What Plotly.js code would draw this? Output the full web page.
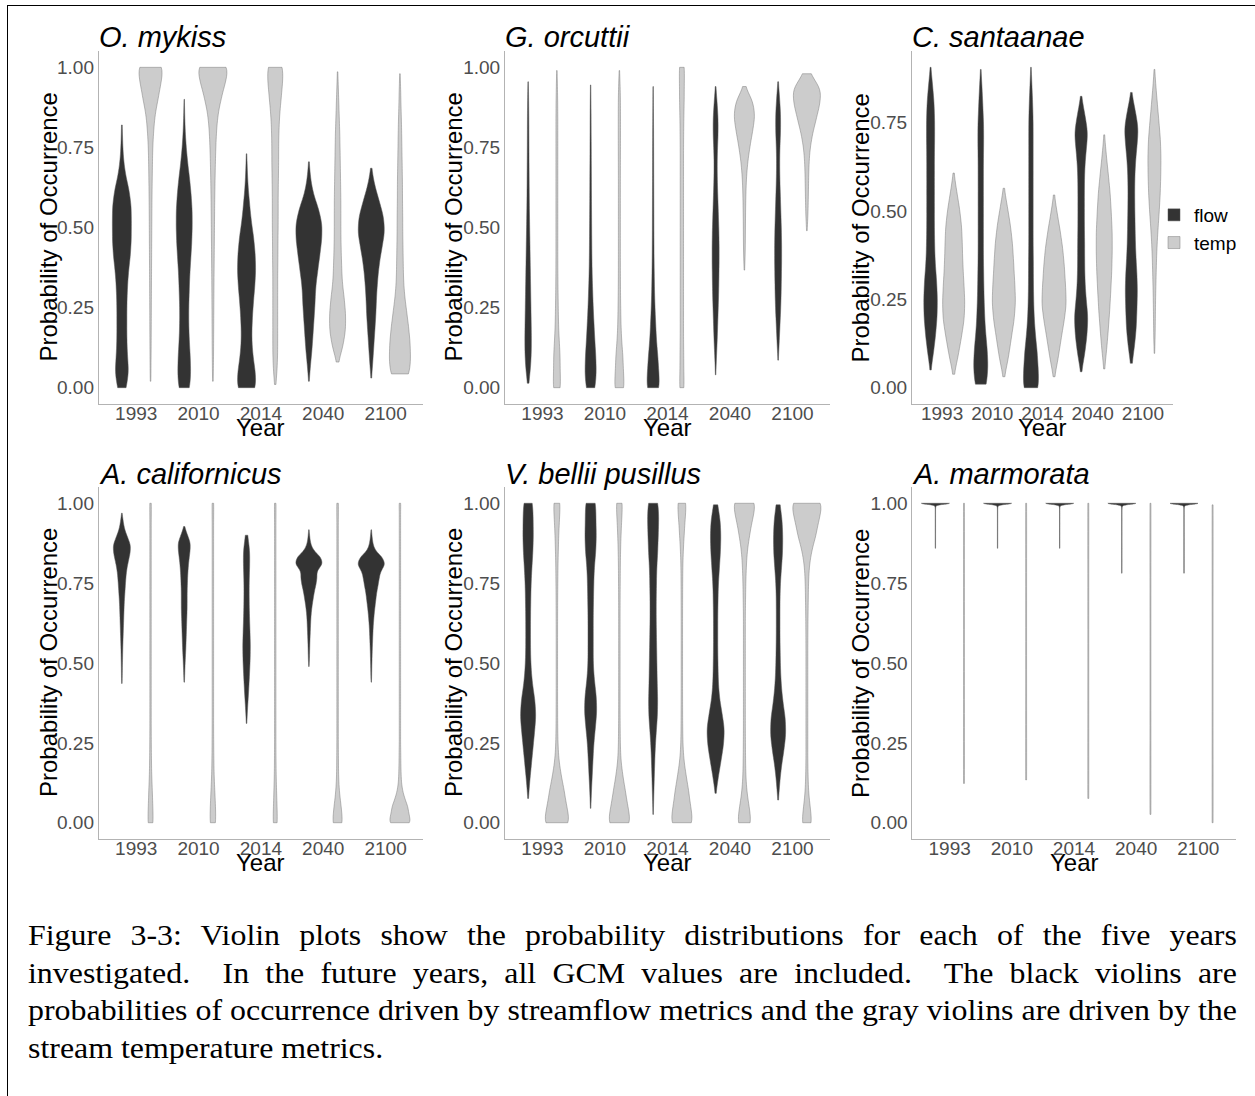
<!DOCTYPE html>
<html>
<head>
<meta charset="utf-8">
<script src="https://cdn.plot.ly/plotly-3.0.1.min.js"></script>
<style>
  html, body { margin:0; padding:0; background:#fff; width:1255px; height:1096px; overflow:hidden; }
  #frame { position:absolute; left:7px; top:5px; width:1300px; height:1200px; border-left:1.5px solid #000; border-top:1.5px solid #000; }
  #chart { position:absolute; left:0; top:0; width:1255px; height:1096px; }
  #caption { position:absolute; left:28px; top:917px; width:1099px; transform:scaleX(1.1); transform-origin:0 0;
             font-family:'Liberation Serif','Times New Roman',serif; font-size:29px; line-height:37.5px; color:#000; }
  #caption .j { text-align:justify; text-align-last:justify; white-space:nowrap; }
  #caption .l { text-align:left; white-space:nowrap; }
</style>
</head>
<body>
<div id="frame"></div>
<div id="chart"></div>
<div id="caption">
  <div class="j">Figure 3-3: Violin plots show the probability distributions for each of the five years</div>
  <div class="j">investigated.&nbsp; In the future years, all GCM values are included.&nbsp; The black violins are</div>
  <div class="j">probabilities of occurrence driven by streamflow metrics and the gray violins are driven by the</div>
  <div class="l">stream temperature metrics.</div>
</div>
<script>
// ---------------- DATA ----------------
const years = ['1993', '2010', '2014', '2040', '2100'];
const speciesNames = ['O. mykiss', 'G. orcuttii', 'C. santaanae', 'A. californicus', 'V. bellii pusillus', 'A. marmorata'];
const seriesNames = ['flow', 'temp'];

// Each violin: [lowest value, highest value, violin widths read at evenly spaced values from low to high]
const omykissFlow = [
  [0, 0.82, [7,14,11,10,10,10,11,13,17,19,19,19,15,7,3,1.5,0.6]],
  [0, 0.90, [9,13,12,10,9,9,10,11,13,15,16,16,14,11,7,4,2,1,0.3]],
  [0, 0.73, [15,17,12,10,11,13,16,18,17,14,9,6,3,1.5,0.4]],
  [0.02, 0.705, [0.4,3,6,8,10,12,13,17,21,25,26,19,8,3,0.4]],
  [0.03, 0.685, [0.4,3,5,7,9,10,12,15,20,26,24,15,6,0.5]]
];
const omykissTemp = [
  [0.02, 1, [0.5,1,1.3,1.5,1.7,1.8,2,2.2,2.4,2.6,2.8,3,3.3,3.8,4.3,5,7,10,17,23,23]],
  [0.02, 1, [0.5,1.2,1.5,1.7,1.9,2.1,2.3,2.6,2.9,3.2,3.5,3.8,4.2,4.8,5.5,6.5,8,11,18,27,28]],
  [0.01, 1, [1,4,5,5,5,5,5,5,5.5,5.5,6,6,6,6.5,7,7,7.5,9,12,15,13]],
  [0.08, 0.986, [1,11,16,16,13,9,8,7,6.5,6.5,6.5,6,5.5,5,4.5,3.5,2.5,1.5,0.3]],
  [0.043, 0.98, [15,21,20,17,13,9,7,6.5,6,5.5,5.5,5,5,4.5,4,3.5,3,2,1.5,0.3]]
];
const gorcuttiiFlow = [
  [0.014, 0.955, [1,5,6.5,6.5,6,5.5,5,4.5,4,3.5,3,2.5,2.2,2,1.8,1.6,1.5,1.3,1,0.3]],
  [0, 0.945, [7,11,10,8,6.5,5,4,3,2.5,2.2,2,1.8,1.6,1.5,1.3,1.2,1,0.9,0.7,0.3]],
  [0, 0.94, [11,12,10,7,5.5,4,3,2.5,2,1.8,1.6,1.5,1.4,1.3,1.2,1.1,1,0.8,0.6,0.3]],
  [0.04, 0.94, [0.3,1.5,3,4,5,6,6.5,7,7,6.5,5.5,4.5,3.5,3,3.5,5,5,3,0.3]],
  [0.086, 0.955, [0.3,2,3.5,5,6,6.5,7,7,6.5,5.5,4.5,3.5,3,3.5,5,5,3,0.3]]
];
const gorcuttiiTemp = [
  [0, 0.99, [6.5,7,7,5,3.5,3,2.5,2.2,2,2,2,2,2,2,2,2,2,2,1.8,1.2,0.3]],
  [0, 0.99, [9,9,8,5,3.5,3,2.5,2.3,2.2,2.2,2.2,2.2,2.2,2.2,2.3,2.4,2.5,2.5,2.4,1.8,0.3]],
  [0, 1, [4,4,4,3.5,3.5,3.5,3.5,3.5,3.5,3.5,3.5,3.5,3.5,3.5,3.5,3.5,3.8,4.2,5,5,4.5]],
  [0.367, 0.94, [0.3,1.5,1.8,2,2.3,2.8,3.8,6,10,15,20,17,0.5]],
  [0.49, 0.98, [0.3,2,2.5,3,3.5,5,9,16,23,27,4]]
];
const csantaanaeFlow = [
  [0.05, 0.906, [0.4,6,10,13,13.5,12,9,8,7.5,7.5,7.5,7.5,7.5,8,8,7,4,0.3]],
  [0.01, 0.90, [9,14,12,8.5,7,6,5.5,5,5,5,5,5,5,5.5,5.5,4,2.5,0.3]],
  [0, 0.906, [13,15,13,9,6.5,5.5,5,5,4.5,4.5,4.5,4.5,4.5,4.5,4.5,4.5,3.5,2,0.3]],
  [0.045, 0.824, [0.4,7,11,13,9,7,6.5,6.5,6,6,6,6.5,9,13,7,0.3]],
  [0.069, 0.835, [1,6,9,10,11,10,8,7,6.5,6,6,7,10,13,7,0.3]]
];
const csantaanaeTemp = [
  [0.038, 0.607, [0.5,9,15,21,22,20,18,17,16,12,6,0.3]],
  [0.031, 0.564, [0.5,9,14,20,23,21,19,17,13,7,0.3]],
  [0.031, 0.545, [0.5,8,13,19,24,22,20,17,12,6,0.3]],
  [0.053, 0.715, [0.4,5,8,11,13,15,16,16,14,12,8,4,0.3]],
  [0.097, 0.90, [0.3,1.5,1.8,2.2,3,3.8,5,7,9.5,11.5,12.5,13,12,9,6,3,0.3]]
];
const acalifornicusFlow = [
  [0.436, 0.969, [0.4,0.8,1,1.3,1.6,2,2.5,3,3.5,4,4.5,5.5,6.5,7.5,9,12,15.5,17,11,5,2.5,0.3]],
  [0.44, 0.927, [0.4,1,1.5,2.2,3,3.5,4,4.5,5,5.5,5.5,5.5,6,6.5,7.5,9,11,12,6,0.3]],
  [0.311, 0.90, [0.3,2,4,5.5,7,7.5,6.5,5.5,5,5,6,6.5,1.5]],
  [0.489, 0.917, [0.3,1,1.3,1.6,2,2.5,3,3.5,4.5,6,8,10,13,15,14,26,22,8,3,1.5,0.3]],
  [0.44, 0.917, [0.3,0.8,1,1.3,1.6,2,2.5,3,3.5,4.5,5.5,7,8.5,10,12.5,14.5,17,26,21,7,3,1.5,0.3]]
];
const acalifornicusTemp = [
  [0, 1, [5,5,4,2.5,2,1.7,1.5,1.5,1.5,1.5,1.5,1.5,1.5,1.5,1.5,1.5,1.5,1.5,1.5,1.5,1.5]],
  [0, 1, [5,5.5,4,2.5,2,1.7,1.5,1.5,1.5,1.5,1.5,1.5,1.5,1.5,1.5,1.5,1.5,1.5,1.5,1.5,1.5]],
  [0, 1, [4,4,3,2,1.7,1.5,1.5,1.5,1.5,1.5,1.5,1.5,1.5,1.5,1.5,1.5,1.5,1.5,1.5,1.5,1.5]],
  [0, 1, [9,7.5,3.5,2,1.8,1.5,1.5,1.5,1.5,1.5,1.5,1.5,1.5,1.5,1.5,1.5,1.5,1.5,1.5,1.5,1.5]],
  [0, 1, [20,20,18,11,6,3.5,2.7,2.2,2,1.8,1.5,1.5,1.5,1.5,1.5,1.5,1.5,1.5,1.5,1.5,1.5,1.5,1.5,1.5,1.5,1.5,1.5,1.5,1.5,1.5,1.5,1.5,1.5,1.5,1.5,1.5,1.5,1.5,1.5,1.5,1.5]]
];
const vbelliiFlow = [
  [0.076, 1, [0.4,3,6,9,12,15,13,8,5.5,4.5,4.5,4.5,5,5.5,7,9,10,9.5,7]],
  [0.045, 1, [0.3,1.5,3,4.5,6,9,12,11,7,5,5,5,5,5.5,6,7,10,11,10,8]],
  [0.026, 1, [0.3,1.2,2,3,4,6,8.5,9,8,7.5,7,6.5,6,6,6.5,7,9,10,11,8]],
  [0.092, 0.995, [0.4,5,10,15,17,12,7,5,4.5,4,4,4,4.5,5,7,9,10,9,3]],
  [0.071, 0.995, [0.4,3,6,11,15,14,9,6,4.5,4,3.5,3.5,3.5,4,6,8.5,9,8,3]]
];
const vbelliiTemp = [
  [0, 1, [23,21,16,9,4,2.3,1.8,1.6,1.5,1.5,1.5,1.5,1.5,1.6,1.7,2,2.3,3,4,5.5,6]],
  [0, 1, [20,18,13,7,3,2,1.7,1.5,1.5,1.5,1.5,1.5,1.5,1.5,1.6,1.8,2,2.5,3.5,5,5.5]],
  [0, 1, [20,19,15,9,4,2.2,1.8,1.6,1.5,1.5,1.5,1.5,1.5,1.5,1.6,1.8,2,3,5,7,8]],
  [0, 1, [12,10,5,3,2.5,2.2,2,2,2,2,2,2,2,2,2.5,3,4,6,11,17,20]],
  [0, 1, [9,7,3.5,2.5,2,2,2,2,2,2,2,2,2.2,2.5,3,3.5,5,10,20,26,28]]
];
const amarmorataFlow = [
  [0.859, 1, [0.2,0.3,0.3,0.3,0.3,0.3,0.3,0.3,0.3,0.3,0.3,0.3,0.3,0.3,0.3,0.3,0.3,0.3,0.3,0.3,0.3,0.3,0.3,0.3,0.3,0.4,0.6,2,28]],
  [0.859, 1, [0.2,0.3,0.3,0.3,0.3,0.3,0.3,0.3,0.3,0.3,0.3,0.3,0.3,0.3,0.3,0.3,0.3,0.3,0.3,0.3,0.3,0.3,0.3,0.3,0.3,0.4,0.6,2,28]],
  [0.859, 1, [0.2,0.3,0.3,0.3,0.3,0.3,0.3,0.3,0.3,0.3,0.3,0.3,0.3,0.3,0.3,0.3,0.3,0.3,0.3,0.3,0.3,0.3,0.3,0.3,0.3,0.4,0.6,2,28]],
  [0.781, 1, [0.2,0.3,0.3,0.3,0.3,0.3,0.3,0.3,0.3,0.3,0.3,0.3,0.3,0.3,0.3,0.3,0.3,0.3,0.3,0.3,0.3,0.3,0.3,0.3,0.3,0.3,0.3,0.3,0.3,0.3,0.3,0.3,0.3,0.3,0.3,0.3,0.3,0.3,0.3,0.3,0.4,0.6,2,28]],
  [0.781, 1, [0.2,0.3,0.3,0.3,0.3,0.3,0.3,0.3,0.3,0.3,0.3,0.3,0.3,0.3,0.3,0.3,0.3,0.3,0.3,0.3,0.3,0.3,0.3,0.3,0.3,0.3,0.3,0.3,0.3,0.3,0.3,0.3,0.3,0.3,0.3,0.3,0.3,0.3,0.3,0.3,0.4,0.6,2,28]]
];
const amarmorataTemp = [
  [0.123, 1, [1,1,1,1,1]],
  [0.134, 1, [1,1,1,1,1]],
  [0.076, 1, [1,1,1,1,1]],
  [0.026, 1, [1,1,1,1,1]],
  [0, 0.995, [1,1,1,1,1]]
];

// ---------------- LAYOUT / STYLE ----------------
const W = 1255, H = 1096;
const panelData = [
  [omykissFlow, omykissTemp], [gorcuttiiFlow, gorcuttiiTemp], [csantaanaeFlow, csantaanaeTemp],
  [acalifornicusFlow, acalifornicusTemp], [vbelliiFlow, vbelliiTemp], [amarmorataFlow, amarmorataTemp]
];
// plot-area boxes in pixels
const boxes = [
  {x0: 98.8, x1: 423, y0: 51.3, y1: 403.7},
  {x0: 505, x1: 830, y0: 51.3, y1: 403.7},
  {x0: 912, x1: 1173, y0: 51.3, y1: 403.7},
  {x0: 98.8, x1: 423, y0: 487.3, y1: 838.7},
  {x0: 505, x1: 830, y0: 487.3, y1: 838.7},
  {x0: 912.4, x1: 1235.6, y0: 487.3, y1: 838.7}
];
const titleY = [37, 37, 37, 474, 474, 474];
const yearY = [427, 427, 427, 862, 862, 862];
const probX = [48, 453, 860, 48, 453, 860];
const dodge = [-0.23, 0.23];
const fills = ['#333333', '#cccccc'];
const lines = ['#555555', '#7c7c7c'];
const FONT = 'Liberation Sans, Arial, Helvetica, sans-serif';

function expand(v) {
  const lo = v[0], hi = v[1], w = v[2];
  const n = w.length - 1, step = (hi - lo) / n;
  const ys = [];
  w.forEach((wk, k) => {
    let c = wk * 10;
    if (k === 0 || k === n) c *= 1.3;
    c = Math.max(1, Math.round(c));
    const y = +(lo + k * step).toFixed(4);
    for (let j = 0; j < c; j++) ys.push(y);
  });
  return {ys, step, maxW: Math.max(...w), lo, hi};
}

const traces = [];
const layout = {
  width: W, height: H,
  margin: {l: 0, r: 0, t: 0, b: 0},
  paper_bgcolor: 'rgba(0,0,0,0)', plot_bgcolor: 'rgba(0,0,0,0)',
  font: {family: FONT, color: '#000'},
  showlegend: true,
  legend: {x: 1154 / W, y: 1 - 196 / H, xanchor: 'left', yanchor: 'top',
           font: {size: 19, color: '#000', family: FONT}, bgcolor: 'rgba(0,0,0,0)',
           tracegroupgap: 0, itemwidth: 30},
  annotations: []
};

panelData.forEach((pd, p) => {
  const b = boxes[p];
  const sfx = p === 0 ? '' : String(p + 1);
  const pxPerCat = (b.x1 - b.x0) / 5.2;
  let ymin = Infinity, ymax = -Infinity;
  pd.forEach((series, t) => {
    series.forEach((v, i) => {
      const e = expand(v);
      ymin = Math.min(ymin, e.lo); ymax = Math.max(ymax, e.hi);
      traces.push({
        type: 'violin', orientation: 'v',
        x0: i + dodge[t], y: e.ys,
        xaxis: 'x' + sfx, yaxis: 'y' + sfx,
        width: e.maxW / pxPerCat,
        bandwidth: 0.6 * e.step,
        spanmode: 'hard', scalemode: 'width', scalegroup: 'g' + p + '_' + t + '_' + i,
        points: false, box: {visible: false}, meanline: {visible: false},
        fillcolor: fills[t], line: {color: lines[t], width: 0.5},
        name: seriesNames[t], legendgroup: seriesNames[t],
        showlegend: p === 0 && i === 0,
        hoverinfo: 'skip'
      });
    });
  });
  const span = ymax - ymin;
  layout['xaxis' + sfx] = {
    domain: [b.x0 / W, b.x1 / W], anchor: 'y' + sfx, type: 'linear',
    range: [-0.6, 4.6], tickvals: [0, 1, 2, 3, 4], ticktext: years,
    showline: true, linecolor: '#b3b3b3', linewidth: 1, ticks: '', showgrid: false, zeroline: false,
    ticklabelstandoff: -8,
    tickfont: {size: 19, color: '#4d4d4d', family: FONT}, fixedrange: true
  };
  layout['yaxis' + sfx] = {
    domain: [1 - b.y1 / H, 1 - b.y0 / H], anchor: 'x' + sfx,
    range: [ymin - 0.05 * span, ymax + 0.05 * span],
    tick0: 0, dtick: 0.25, tickformat: '.2f',
    showline: true, linecolor: '#b3b3b3', linewidth: 1, ticks: '', showgrid: false, zeroline: false,
    tickfont: {size: 19, color: '#4d4d4d', family: FONT}, fixedrange: true
  };
  layout.annotations.push({
    text: speciesNames[p], xref: 'paper', yref: 'paper',
    x: (b.x0 - 2) / W, y: 1 - titleY[p] / H, xanchor: 'left', yanchor: 'middle', showarrow: false,
    font: {size: 29, style: 'italic', color: '#000', family: FONT}
  });
  layout.annotations.push({
    text: 'Year', xref: 'paper', yref: 'paper',
    x: (b.x0 + b.x1) / 2 / W, y: 1 - yearY[p] / H, xanchor: 'center', yanchor: 'middle', showarrow: false,
    font: {size: 24, color: '#000', family: FONT}
  });
  layout.annotations.push({
    text: 'Probability of Occurrence', xref: 'paper', yref: 'paper', textangle: -90,
    x: probX[p] / W, y: 1 - (b.y0 + b.y1) / 2 / H, xanchor: 'center', yanchor: 'middle', showarrow: false,
    font: {size: 24, color: '#000', family: FONT}
  });
});

Plotly.newPlot('chart', traces, layout, {staticPlot: true, displayModeBar: false});
</script>
</body>
</html>
